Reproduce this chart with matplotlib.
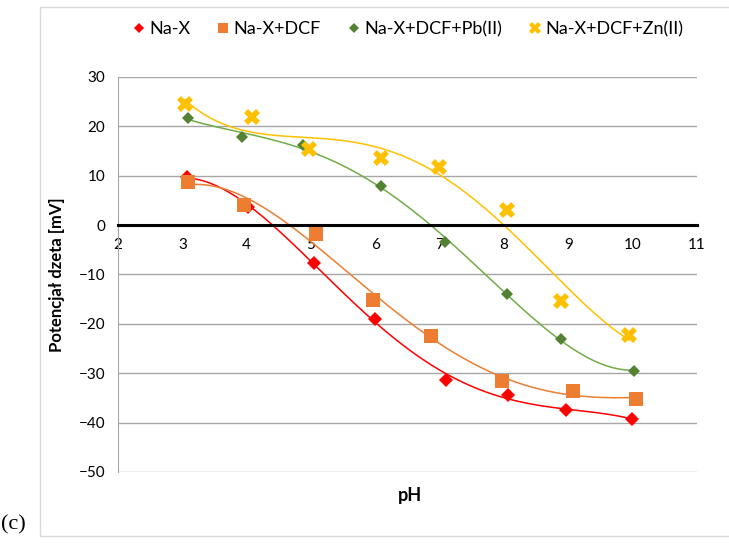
import matplotlib

matplotlib.use("Agg")
import matplotlib.pyplot as plt
from matplotlib.patches import Rectangle
import numpy as np

plt.rcParams["font.family"] = ["Lato", "DejaVu Sans"]

# zeta potential vs pH for the four samples
ph_nax = [3.07, 4.02, 5.05, 6.00, 7.10, 8.07, 8.97, 9.99]
zeta_nax = [9.7, 3.6, -7.7, -19.0, -31.4, -34.4, -37.4, -39.3]

ph_dcf = [3.09, 3.96, 5.08, 5.97, 6.87, 7.97, 9.08, 10.06]
zeta_dcf = [8.7, 4.0, -1.8, -15.2, -22.5, -31.6, -33.6, -35.2]

ph_pb = [3.09, 3.93, 4.88, 6.09, 7.09, 8.05, 8.89, 10.02]
zeta_pb = [21.7, 17.8, 16.2, 7.9, -3.4, -14.0, -23.1, -29.5]

ph_zn = [3.04, 4.08, 4.97, 6.09, 6.99, 8.05, 8.89, 9.95]
zeta_zn = [24.5, 21.9, 15.4, 13.6, 11.7, 3.0, -15.4, -22.3]

series = [
    ("Na-X", ph_nax, zeta_nax, "D", "#ff0000", "#ff0000", 7),
    ("Na-X+DCF", ph_dcf, zeta_dcf, "s", "#ed7d31", "#ed7d31", 10),
    ("Na-X+DCF+Pb(II)", ph_pb, zeta_pb, "D", "#548235", "#70ad47", 6.5),
    ("Na-X+DCF+Zn(II)", ph_zn, zeta_zn, "X", "#ffc000", "#ffc000", 12),
]

fig = plt.figure(figsize=(7.29, 5.44), dpi=100)
ax = fig.add_axes([0.1619, 0.1324, 0.794, 0.7261])

for name, x, y, mk, mcol, lcol, ms in series:
    # 4th order polynomial trend line for each series
    coef = np.polyfit(x, y, 4)
    xs = np.linspace(min(x), max(x), 200)
    ax.plot(xs, np.polyval(coef, xs), color=lcol, lw=1.1, zorder=2)
    ax.plot(x, y, ls="none", marker=mk, color=mcol, markersize=ms,
            markeredgewidth=0, label=name, zorder=3)

ax.set_xlim(2, 11)
ax.set_ylim(-50, 30)
ax.set_xticks(range(2, 12))
ax.set_yticks(range(-50, 31, 10))
ax.yaxis.grid(True, color="#a6a6a6", lw=1)
ax.set_axisbelow(True)

for s in ["top", "right"]:
    ax.spines[s].set_visible(False)
ax.spines["left"].set_color("#a6a6a6")
ax.spines["bottom"].set_position(("data", 0))
ax.spines["bottom"].set_color("black")
ax.spines["bottom"].set_linewidth(2.2)
ax.spines["bottom"].set_zorder(2.5)
ax.tick_params(length=0, labelsize=11, colors="#000000")
ax.tick_params(axis="x", pad=9)
ax.tick_params(axis="y", pad=9)

ax.set_ylabel("Potencjał dzeta [mV]", fontsize=12, fontweight="bold", labelpad=10)
fig.text(0.563, 0.09, "pH", ha="center", va="center", fontsize=13, fontweight="bold")

ax.legend(loc="lower center", bbox_to_anchor=(0.5, 1.06), ncol=4, frameon=False,
          fontsize=13, handletextpad=0.15, columnspacing=1.45, handlelength=0.8,
          markerscale=0.75)

# chart frame and panel letter
fig.add_artist(Rectangle((40 / 729, 1 - 536 / 544), 1.0, (536 - 7) / 544,
                         transform=fig.transFigure, fill=False,
                         edgecolor="#d9d9d9", lw=1))
fig.text(0.002, 0.035, "(c)", fontsize=16, family="Liberation Serif",
         ha="left", va="center")

plt.savefig("out.png", dpi=100)
